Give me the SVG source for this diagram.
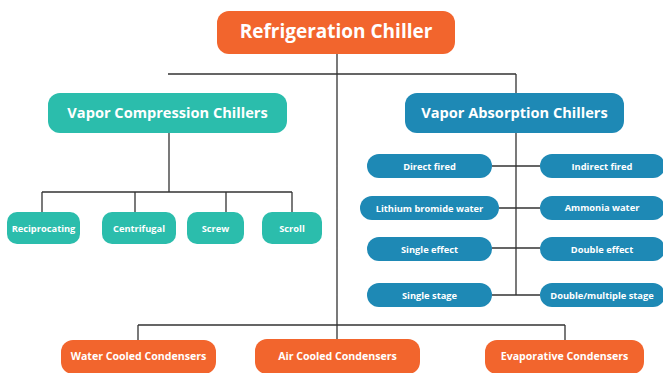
<svg xmlns="http://www.w3.org/2000/svg" width="663" height="373" viewBox="0 0 663 373">
<style>
.o{fill:#F2652D}.t{fill:#2BBDAC}.b{fill:#1E89B5}
text{font-family:"Open Sans","Noto Sans",sans-serif;font-weight:700;fill:#fff;text-anchor:middle;dominant-baseline:central}
.l{fill:none;stroke:#333;stroke-width:1.3}
.h1{font-size:19px}.h2{font-size:14.6px}.s{font-size:9.3px}.m{font-size:10.6px}
</style>
<rect width="663" height="373" fill="#fff"/>
<g id="connectors" class="l">
<path d="M337 54V343M168 74H516M169 133V192M42 192H292M42 192V213M135 192V213M226 192V213M292 192V213M516 74V93M516 133V295M492 166H540M499 208H540M492 248H540M492 295H540M138 325H565M138 325V342M565 325V342"/>
</g>
<g id="n_root"><rect class="o" x="217" y="11" width="238" height="43" rx="12"/><text class="h1" x="336" y="31">Refrigeration Chiller</text></g>
<g id="n_vc"><rect class="t" x="48" y="93" width="239" height="40" rx="12"/><text class="h2" x="167.5" y="112">Vapor Compression Chillers</text></g>
<g id="n_va"><rect class="b" x="405" y="93" width="219" height="40" rx="12"/><text class="h2" x="514.5" y="112">Vapor Absorption Chillers</text></g>
<g id="n_rec"><rect class="t" x="7" y="212" width="73" height="32" rx="10"/><text class="s" x="43.5" y="228">Reciprocating</text></g>
<g id="n_cen"><rect class="t" x="102" y="212" width="74" height="32" rx="10"/><text class="s" x="139" y="228">Centrifugal</text></g>
<g id="n_scw"><rect class="t" x="187" y="212" width="57" height="32" rx="10"/><text class="s" x="215.5" y="228">Screw</text></g>
<g id="n_scl"><rect class="t" x="262" y="212" width="60" height="32" rx="10"/><text class="s" x="292" y="228">Scroll</text></g>
<g id="n_df"><rect class="b" x="367" y="154" width="125" height="24" rx="12"/><text class="s" x="429.5" y="166">Direct fired</text></g>
<g id="n_if"><rect class="b" x="540" y="154" width="125" height="24" rx="12"/><text class="s" x="602" y="166">Indirect fired</text></g>
<g id="n_lb"><rect class="b" x="360" y="196" width="139" height="24" rx="12"/><text class="s" x="429.5" y="208">Lithium bromide water</text></g>
<g id="n_aw"><rect class="b" x="540" y="196" width="125" height="24" rx="12"/><text class="s" x="602" y="207">Ammonia water</text></g>
<g id="n_se"><rect class="b" x="367" y="237" width="125" height="24" rx="12"/><text class="s" x="429.5" y="249">Single effect</text></g>
<g id="n_de"><rect class="b" x="540" y="237" width="125" height="24" rx="12"/><text class="s" x="602" y="249">Double effect</text></g>
<g id="n_ss"><rect class="b" x="367" y="283" width="125" height="24" rx="12"/><text class="s" x="429.5" y="295">Single stage</text></g>
<g id="n_ds"><rect class="b" x="540" y="283" width="125" height="24" rx="12"/><text class="s" x="602" y="295">Double/multiple stage</text></g>
<g id="n_wc"><rect class="o" x="61" y="340" width="155" height="34" rx="12"/><text class="m" x="138.5" y="356">Water Cooled Condensers</text></g>
<g id="n_ac"><rect class="o" x="255" y="339" width="165" height="35" rx="12"/><text class="m" x="337.5" y="356">Air Cooled Condensers</text></g>
<g id="n_ec"><rect class="o" x="485" y="340" width="159" height="34" rx="12"/><text class="m" x="564.5" y="356">Evaporative Condensers</text></g>
</svg>
